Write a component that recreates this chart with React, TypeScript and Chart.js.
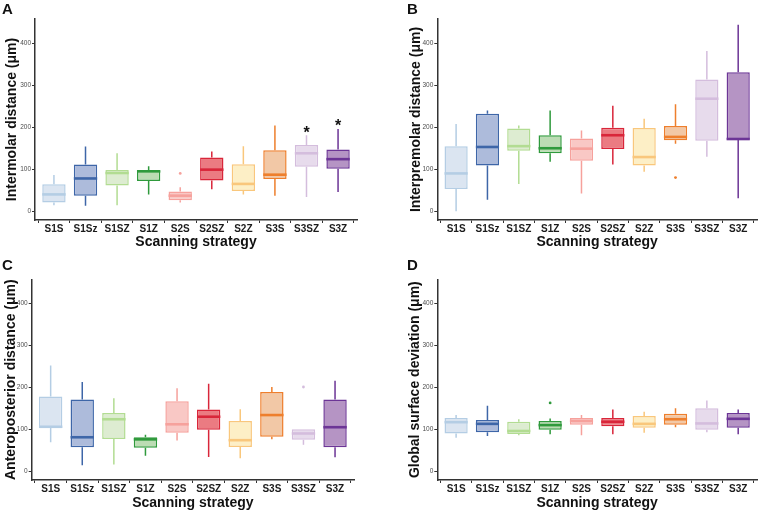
import React, { useEffect, useRef } from 'react';
import { Chart, registerables } from 'chart.js';

Chart.register(...registerables);

// ---------- data ----------
const categories = ['S1S', 'S1Sz', 'S1SZ', 'S1Z', 'S2S', 'S2SZ', 'S2Z', 'S3S', 'S3SZ', 'S3Z'];
const yTickValues = [0, 100, 200, 300, 400];
const xAxisTitle = 'Scanning strategy';

// A – Intermolar distance
const intermolarMin = [14, 13, 14, 40, 21, 52, 40, 37, 34, 46];
const intermolarQ1 = [21, 37, 61, 72, 26, 73, 48, 77, 106, 101];
const intermolarMedian = [40, 78, 91, 95, 37, 99, 65, 87, 138, 124];
const intermolarQ3 = [64, 111, 98, 97, 47, 128, 112, 145, 158, 147];
const intermolarMax = [86, 154, 138, 107, 57, 142, 155, 204, 181, 196];
const intermolarOutlierIdx = [4];
const intermolarOutlierVal = [90];
const intermolarStarIdx = [8, 9];
const intermolarStarVal = [196, 212];

// B – Interpremolar distance
const interpremolarMin = [0, 27, 65, 118, 42, 111, 94, 161, 130, 31];
const interpremolarQ1 = [53, 109, 144, 138, 120, 148, 109, 169, 168, 170];
const interpremolarMedian = [90, 153, 155, 150, 149, 181, 129, 177, 268, 172];
const interpremolarQ3 = [155, 232, 197, 181, 173, 199, 198, 203, 314, 331];
const interpremolarMax = [208, 240, 204, 240, 192, 251, 220, 255, 382, 444];
const interpremolarOutlierIdx = [7];
const interpremolarOutlierVal = [80];

// C – Anteroposterior distance
const anteroMin = [69, 14, 16, 37, 73, 34, 31, 76, 63, 33];
const anteroQ1 = [103, 57, 77, 56, 92, 99, 58, 82, 75, 57];
const anteroMedian = [106, 81, 124, 76, 112, 130, 74, 134, 90, 105];
const anteroQ3 = [178, 171, 139, 81, 167, 147, 120, 189, 100, 171];
const anteroMax = [252, 213, 174, 87, 198, 209, 148, 201, 100, 216];
const anteroOutlierIdx = [8];
const anteroOutlierVal = [201];

// D – Global surface deviation
const globalMin = [80, 84, 86, 88, 86, 88, 92, 105, 93, 88];
const globalQ1 = [90, 93, 89, 99, 111, 107, 104, 111, 99, 104];
const globalMedian = [117, 113, 96, 110, 120, 118, 113, 124, 114, 125];
const globalQ3 = [127, 122, 118, 120, 127, 127, 132, 137, 150, 139];
const globalMax = [134, 156, 124, 126, 134, 147, 142, 150, 169, 147];
const globalOutlierIdx = [3];
const globalOutlierVal = [163];

// ---------- styles ----------
const lineColors = ['#b4cde4', '#3e66a8', '#b2dc92', '#2f9a3c', '#f6a19c', '#d9263a', '#f9c77c', '#ee7f2d', '#d4bddd', '#6c3596'];
const fillColors = ['#dbe5f1', '#adbbdb', '#ddecd1', '#bcdcb4', '#f9c8c5', '#eb7b82', '#fdefc6', '#f2c8a6', '#e7dbec', '#b594c4'];
const FONT = "'Liberation Sans', Arial, Helvetica, sans-serif";

type Panel = {
  letter: string;
  yTitle: string;
  min: number[]; q1: number[]; med: number[]; q3: number[]; max: number[];
  outIdx: number[]; outVal: number[];
  starIdx?: number[]; starVal?: number[];
  left: number; top: number; width: number; height: number;
  padLeft: number; padRight: number; padTop: number;
  yWidth: number; xHeight: number; yTitlePad: number; xTitlePad: number;
  letterX: number; letterY: number;
};

const panels: Panel[] = [
  {
    letter: 'A', yTitle: 'Intermolar distance (μm)',
    min: intermolarMin, q1: intermolarQ1, med: intermolarMedian, q3: intermolarQ3, max: intermolarMax,
    outIdx: intermolarOutlierIdx, outVal: intermolarOutlierVal,
    starIdx: intermolarStarIdx, starVal: intermolarStarVal,
    left: 0, top: 0, width: 380, height: 256,
    padLeft: 0, padRight: 23, padTop: 19, yWidth: 35, xHeight: 36, yTitlePad: 3.6, xTitlePad: 5,
    letterX: 2, letterY: 1,
  },
  {
    letter: 'B', yTitle: 'Interpremolar distance (μm)',
    min: interpremolarMin, q1: interpremolarQ1, med: interpremolarMedian, q3: interpremolarQ3, max: interpremolarMax,
    outIdx: interpremolarOutlierIdx, outVal: interpremolarOutlierVal,
    left: 380, top: 0, width: 381, height: 256,
    padLeft: 24, padRight: 2, padTop: 19, yWidth: 33.3, xHeight: 36, yTitlePad: 3.6, xTitlePad: 5,
    letterX: 407, letterY: 1,
  },
  {
    letter: 'C', yTitle: 'Anteroposterior distance (μm)',
    min: anteroMin, q1: anteroQ1, med: anteroMedian, q3: anteroQ3, max: anteroMax,
    outIdx: anteroOutlierIdx, outVal: anteroOutlierVal,
    left: 0, top: 256, width: 380, height: 256,
    padLeft: 0, padRight: 26, padTop: 23.3, yWidth: 31.7, xHeight: 32, yTitlePad: 2.6, xTitlePad: 0.3,
    letterX: 2, letterY: 257,
  },
  {
    letter: 'D', yTitle: 'Global surface deviation (μm)',
    min: globalMin, q1: globalQ1, med: globalMedian, q3: globalQ3, max: globalMax,
    outIdx: globalOutlierIdx, outVal: globalOutlierVal,
    left: 380, top: 256, width: 381, height: 256,
    padLeft: 24, padRight: 1, padTop: 23.3, yWidth: 33.3, xHeight: 32, yTitlePad: 3.1, xTitlePad: 0.3,
    letterX: 407, letterY: 257,
  },
];

function makeConfig(p: Panel): any {
  const boxExtras = {
    id: 'boxExtras' + p.letter,
    afterDatasetsDraw(chart: any) {
      const { ctx } = chart;
      const x = chart.scales.x;
      const y = chart.scales.y;
      const meta = chart.getDatasetMeta(0);
      ctx.save();
      meta.data.forEach((bar: any, i: number) => {
        const cx = x.getPixelForValue(i);
        const half = bar.width / 2;
        ctx.strokeStyle = lineColors[i];
        ctx.lineCap = 'butt';
        ctx.lineWidth = 1.5;
        ctx.beginPath();
        ctx.moveTo(cx, y.getPixelForValue(p.max[i]));
        ctx.lineTo(cx, y.getPixelForValue(p.q3[i]));
        ctx.moveTo(cx, y.getPixelForValue(p.q1[i]));
        ctx.lineTo(cx, y.getPixelForValue(p.min[i]));
        ctx.stroke();
        const ym = y.getPixelForValue(p.med[i]);
        ctx.lineWidth = 2.6;
        ctx.beginPath();
        ctx.moveTo(cx - half, ym);
        ctx.lineTo(cx + half, ym);
        ctx.stroke();
      });
      if (p.starIdx && p.starVal) {
        ctx.fillStyle = '#111';
        ctx.font = `bold 16px ${FONT}`;
        ctx.textAlign = 'center';
        ctx.textBaseline = 'alphabetic';
        p.starIdx.forEach((si, k) => {
          const sx = x.getPixelForValue(si);
          const sy = y.getPixelForValue(p.starVal![k]);
          ctx.fillText('*', sx, sy + 9);
        });
      }
      ctx.restore();
    },
  };

  return {
    type: 'bar',
    data: {
      datasets: [
        {
          type: 'bar',
          data: categories.map((_, i) => ({ x: i, y: [p.q1[i], p.q3[i]] })),
          backgroundColor: fillColors,
          borderColor: lineColors,
          borderWidth: 1.5,
          borderSkipped: false,
          categoryPercentage: 1,
          barPercentage: 0.74,
          grouped: false,
          order: 2,
        },
        {
          type: 'scatter',
          data: p.outIdx.map((xi, k) => ({ x: xi, y: p.outVal[k] })),
          pointBackgroundColor: p.outIdx.map((xi) => lineColors[xi]),
          pointBorderWidth: 0,
          pointRadius: 1.4,
          showLine: false,
          order: 1,
        },
      ],
    },
    options: {
      responsive: false,
      animation: false,
      events: [],
      layout: { padding: { left: p.padLeft, right: p.padRight, top: p.padTop, bottom: 0 } },
      plugins: {
        legend: { display: false },
        tooltip: { enabled: false },
        title: { display: false },
      },
      scales: {
        x: {
          type: 'linear',
          min: -0.6,
          max: 9.6,
          offset: false,
          afterBuildTicks: (s: any) => {
            s.ticks = categories.map((_, i) => ({ value: i }));
          },
          afterFit: (s: any) => {
            s.height = p.xHeight;
          },
          ticks: {
            callback: (v: any) => categories[Math.round(Number(v))],
            autoSkip: false,
            maxRotation: 0,
            minRotation: 0,
            padding: 0,
            color: '#1a1a1a',
            font: { family: FONT, size: 10, weight: 'bold' },
          },
          grid: { display: true, drawOnChartArea: false, drawTicks: true, tickLength: 3, color: '#333', lineWidth: 1 },
          border: { display: true, color: '#333', width: 1.5 },
          title: {
            display: true,
            text: xAxisTitle,
            color: '#111',
            font: { family: FONT, size: 14, weight: 'bold' },
            padding: { top: 0, bottom: p.xTitlePad },
          },
        },
        y: {
          type: 'linear',
          min: -21,
          max: 458,
          afterBuildTicks: (s: any) => {
            s.ticks = yTickValues.map((v) => ({ value: v }));
          },
          afterFit: (s: any) => {
            s.width = p.yWidth;
          },
          ticks: {
            padding: 1,
            color: '#4d4d4d',
            font: { family: FONT, size: 6.5 },
          },
          grid: { display: true, drawOnChartArea: false, drawTicks: true, tickLength: 3, color: '#333', lineWidth: 1 },
          border: { display: true, color: '#333', width: 1.5 },
          title: {
            display: true,
            text: p.yTitle,
            color: '#111',
            font: { family: FONT, size: 14, weight: 'bold' },
            padding: { top: p.yTitlePad, bottom: 0 },
          },
        },
      },
    },
    plugins: [boxExtras],
  };
}

function PanelChart({ p }: { p: Panel }) {
  const ref = useRef<HTMLCanvasElement | null>(null);
  useEffect(() => {
    if (!ref.current) return;
    const chart = new Chart(ref.current, makeConfig(p));
    return () => chart.destroy();
  }, [p]);
  return (
    <canvas
      ref={ref}
      width={p.width}
      height={p.height}
      style={{ position: 'absolute', left: p.left, top: p.top, width: p.width, height: p.height }}
    />
  );
}

export default function App() {
  return (
    <div style={{ position: 'absolute', left: 0, top: 0, width: 761, height: 512, background: '#fff', overflow: 'hidden' }}>
      {panels.map((p) => (
        <PanelChart key={p.letter} p={p} />
      ))}
      {panels.map((p) => (
        <div
          key={'l' + p.letter}
          style={{
            position: 'absolute',
            left: p.letterX,
            top: p.letterY,
            fontFamily: FONT,
            fontWeight: 'bold',
            fontSize: 15,
            lineHeight: '15px',
            color: '#111',
          }}
        >
          {p.letter}
        </div>
      ))}
    </div>
  );
}
